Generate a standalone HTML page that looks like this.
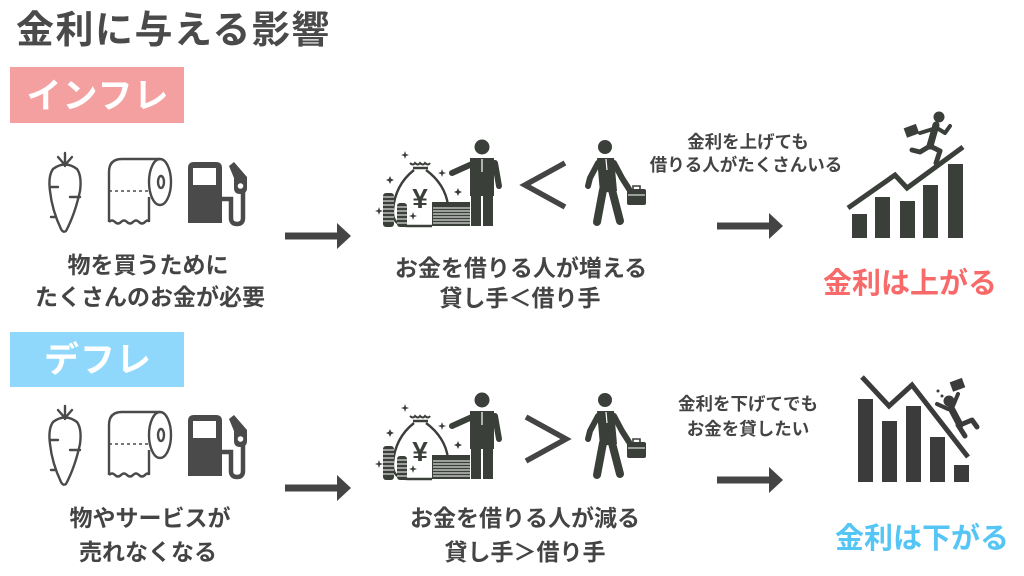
<!DOCTYPE html>
<html><head><meta charset="utf-8">
<style>
html,body{margin:0;padding:0;background:#fff;}
svg{display:block;}
text{font-family:"Liberation Sans","Noto Sans CJK JP",sans-serif;font-weight:bold;}
</style></head>
<body>
<svg width="1024" height="576" viewBox="0 0 1024 576" xmlns="http://www.w3.org/2000/svg">
<defs>
  <g id="carrot" fill="none" stroke="#4a4a4a" stroke-width="2.4" stroke-linecap="round" stroke-linejoin="round">
    <path d="M53,169 Q65,160 77,169 Q82,176 80,191 Q75,214 66,231 Q63,233 61,229 Q52,210 50,191 Q48,176 53,169 Z"/>
    <path d="M65,166 L65,153 M58,157 L65,165 L72,157"/>
    <path d="M51,187 L58,187 M70,197 L80,197 M51,217 L55,217"/>
  </g>
  <g id="paper" fill="none" stroke="#4a4a4a" stroke-width="2.4" stroke-linejoin="round">
    <path d="M109,222 L109,172 Q109,159 122,159 L160,159"/>
    <ellipse cx="160" cy="182" rx="11" ry="23"/>
    <ellipse cx="161" cy="182" rx="3" ry="6"/>
    <path d="M149,197 L149,222"/>
    <path d="M109,222 q3,-3 6,0 q3,3 6,0 q3,-3 6,0 q3,3 6,0 q3,-3 6,0 q3,3 6,0 q3,-3 4,0"/>
    <path d="M109,191 L149,191" stroke-dasharray="3,3" stroke-width="1.6"/>
  </g>
  <g id="pump">
    <path d="M188,223 L188,168 Q188,162 194,162 L216,162 Q222,162 222,168 L222,223 Z" fill="#4a4a4a"/>
    <rect x="193" y="168" width="23" height="17" fill="#fff"/>
    <path d="M222,199 L231,199 L231,218 Q231,224 237,224 Q243,224 243,218 L243,185" fill="none" stroke="#4a4a4a" stroke-width="4.5"/>
    <path d="M229,166 L234,162 L247,177 L247,188 Q247,194 240,194 Q234,194 234,188 L234,178 Z" fill="#4a4a4a"/>
    <circle cx="240.5" cy="186" r="2.8" fill="#fff"/>
  </g>
  <g id="money">
    <path d="M410,163 q3,3 5,0 q3,3 5,0 q3,3 5,0 q3,3 5,0" fill="none" stroke="#3b3f3a" stroke-width="2"/>
    <path d="M413,168 L428,168" stroke="#3b3f3a" stroke-width="2.5"/>
    <path d="M414,170 Q395,185 393,210 Q392,226 408,226 L432,226 M426,170 Q445,184 448,205" fill="none" stroke="#3b3f3a" stroke-width="2.4"/>
    <text x="420" y="208" font-size="28" text-anchor="middle" fill="#3b3f3a">¥</text>
    <rect x="383" y="193" width="11" height="34" rx="3" fill="#3b3f3a"/>
    <rect x="397" y="203" width="10" height="24" rx="3" fill="#3b3f3a"/>
    <g stroke="#fff" stroke-width="1">
      <path d="M383,197 H394 M383,201 H394 M383,205 H394 M383,209 H394 M383,213 H394 M383,217 H394 M383,221 H394"/>
      <path d="M397,207 H407 M397,211 H407 M397,215 H407 M397,219 H407 M397,223 H407"/>
    </g>
    <rect x="432" y="202" width="38" height="24" fill="#3b3f3a"/>
    <g stroke="#fff" stroke-width="1.1">
      <path d="M433,208 H470 M433,211 H470 M433,214 H470 M433,217 H470 M433,220 H470 M433,223 H470"/>
    </g>
    <g fill="#3b3f3a">
      <path d="M405,151 L406,154 L409,155 L406,156 L405,159 L404,156 L401,155 L404,154 Z"/>
      <path d="M390,176 L391.2,178.8 L394,180 L391.2,181.2 L390,184 L388.8,181.2 L386,180 L388.8,178.8 Z"/>
      <path d="M442,169 L443,172 L446,173 L443,174 L442,177 L441,174 L438,173 L441,172 Z"/>
      <path d="M458,188 L459.2,190.8 L462,192 L459.2,193.2 L458,196 L456.8,193.2 L454,192 L456.8,190.8 Z"/>
      <path d="M379,207 L380,210 L383,211 L380,212 L379,215 L378,212 L375,211 L378,210 Z"/>
      <path d="M413,212 L414,215 L417,216 L414,217 L413,220 L412,217 L409,216 L412,215 Z"/>
    </g>
    <circle cx="482" cy="147" r="7.5" fill="#3b3f3a"/>
    <path d="M470,158 L494,158 L494,196 L470,196 Z" fill="#3b3f3a"/>
    <rect x="471" y="192" width="10" height="34" fill="#3b3f3a"/>
    <rect x="483" y="192" width="10" height="34" fill="#3b3f3a"/>
    <path d="M472,164 L452,173" stroke="#3b3f3a" stroke-width="6" stroke-linecap="round"/>
    <path d="M495,163 L499,186" stroke="#3b3f3a" stroke-width="6" stroke-linecap="round"/>
    <path d="M482,159 L482,172" stroke="#fff" stroke-width="1.2"/>
    <circle cx="605" cy="147" r="7" fill="#3b3f3a"/>
    <path d="M597,158 L614,158 L617,191 L600,193 Z" fill="#3b3f3a"/>
    <path d="M598,163 L590,178 L588,186" fill="none" stroke="#3b3f3a" stroke-width="6" stroke-linecap="round" stroke-linejoin="round"/>
    <path d="M614,163 L622,178 L629,189" fill="none" stroke="#3b3f3a" stroke-width="6" stroke-linecap="round" stroke-linejoin="round"/>
    <path d="M603,190 L597,222" stroke="#3b3f3a" stroke-width="8" stroke-linecap="round"/>
    <path d="M612,190 L620,221" stroke="#3b3f3a" stroke-width="8" stroke-linecap="round"/>
    <path d="M606,159 L607,170" stroke="#fff" stroke-width="1.2"/>
    <rect x="627" y="189" width="19" height="16" rx="2" fill="#3b3f3a"/>
    <path d="M633,189 L633,186 L640,186 L640,189" fill="none" stroke="#3b3f3a" stroke-width="1.6"/>
    <path d="M628,195 H645" stroke="#fff" stroke-width="1"/>
  </g>
  <g id="arrow" fill="#444">
    <rect x="0" y="-3.5" width="53" height="7"/>
    <path d="M52,-13 L66,0 L52,13 Z"/>
  </g>
</defs>

<text x="16" y="43" font-size="38" fill="#4a4a4a" letter-spacing="1.5">金利に与える影響</text>

<rect x="10" y="67" width="174" height="56" fill="#f5a0a0"/>
<text x="98" y="108" font-size="35" fill="#fff" text-anchor="middle" letter-spacing="1">インフレ</text>

<use href="#carrot"/>
<use href="#paper"/>
<use href="#pump"/>
<use href="#arrow" x="285" y="236"/>
<use href="#money"/>
<path d="M565,163 L525,185 L565,207" fill="none" stroke="#444" stroke-width="5.5"/>
<use href="#arrow" x="717" y="226"/>

<text x="148" y="273" font-size="23" fill="#444" text-anchor="middle">物を買うために</text>
<text x="150" y="305" font-size="23" fill="#444" text-anchor="middle">たくさんのお金が必要</text>
<text x="521" y="276" font-size="23" fill="#444" text-anchor="middle">お金を借りる人が増える</text>
<text x="520" y="306" font-size="23" fill="#444" text-anchor="middle">貸し手＜借り手</text>
<text x="748" y="148" font-size="17.5" fill="#444" text-anchor="middle">金利を上げても</text>
<text x="746" y="171" font-size="17.5" fill="#444" text-anchor="middle">借りる人がたくさんいる</text>
<text x="910" y="293" font-size="29" fill="#f86a6a" text-anchor="middle">金利は上がる</text>

<g fill="#3b3f3a">
  <rect x="852" y="214" width="15" height="24"/>
  <rect x="875" y="197" width="15" height="41"/>
  <rect x="900" y="201" width="15" height="37"/>
  <rect x="923" y="185" width="15" height="53"/>
  <rect x="948" y="164" width="15" height="74"/>
</g>
<path d="M848,208 L895,175 L907,188 L963,147" fill="none" stroke="#3b3f3a" stroke-width="5"/>
<g stroke="#3b3f3a" fill="none" stroke-linecap="round" stroke-linejoin="round">
  <circle cx="939" cy="117" r="5.5" fill="#3b3f3a" stroke="none"/>
  <path d="M936,125 L930,146" stroke-width="7"/>
  <path d="M937,128 L945,133 L950,126" stroke-width="4"/>
  <path d="M933,129 L920,133" stroke-width="4"/>
  <path d="M930,146 L940,151 L936,163" stroke-width="5"/>
  <path d="M930,146 L920,152 L912,150" stroke-width="5"/>
</g>
<rect x="905" y="126" width="13" height="10" fill="#3b3f3a" transform="rotate(-20 911 131)"/>

<rect x="10" y="332" width="174" height="55" fill="#8fd8fb"/>
<text x="98" y="372" font-size="35" fill="#fff" text-anchor="middle" letter-spacing="1">デフレ</text>

<g transform="translate(0,253)">
  <use href="#carrot"/>
  <use href="#paper"/>
  <use href="#pump"/>
  <use href="#money"/>
</g>
<use href="#arrow" x="285" y="488"/>
<path d="M526,417 L566,439 L526,461" fill="none" stroke="#444" stroke-width="5.5"/>
<use href="#arrow" x="717" y="480"/>

<text x="150" y="526" font-size="23" fill="#444" text-anchor="middle">物やサービスが</text>
<text x="148" y="560" font-size="23" fill="#444" text-anchor="middle">売れなくなる</text>
<text x="525" y="526" font-size="23" fill="#444" text-anchor="middle">お金を借りる人が減る</text>
<text x="525" y="560" font-size="23" fill="#444" text-anchor="middle">貸し手＞借り手</text>
<text x="748" y="410" font-size="17.5" fill="#444" text-anchor="middle">金利を下げてでも</text>
<text x="748" y="435" font-size="17.5" fill="#444" text-anchor="middle">お金を貸したい</text>
<text x="922" y="548" font-size="29" fill="#55c5f5" text-anchor="middle">金利は下がる</text>

<g fill="#3b3b3b">
  <rect x="858" y="399" width="15" height="83"/>
  <rect x="882" y="421" width="15" height="61"/>
  <rect x="906" y="406" width="15" height="76"/>
  <rect x="930" y="437" width="15" height="45"/>
  <rect x="954" y="465" width="15" height="17"/>
</g>
<path d="M862,377 L889,406 L912,385 L968,457" fill="none" stroke="#3b3b3b" stroke-width="5"/>
<g stroke="#3b3b3b" fill="none" stroke-linecap="round" stroke-linejoin="round">
  <circle cx="949" cy="401" r="5.5" fill="#3b3b3b" stroke="none"/>
  <path d="M951,408 L960,425" stroke-width="7"/>
  <path d="M953,406 L958,394" stroke-width="4"/>
  <path d="M948,409 L937,404" stroke-width="4"/>
  <path d="M960,425 L972,420 L977,427" stroke-width="5"/>
  <path d="M958,425 L965,436" stroke-width="5"/>
</g>
<rect x="951" y="380" width="13" height="10" fill="#3b3b3b" transform="rotate(-20 957 385)"/>
<circle cx="938" cy="391" r="1.5" fill="#3b3b3b"/>
<circle cx="942" cy="396" r="1.5" fill="#3b3b3b"/>
</svg>
</body></html>
